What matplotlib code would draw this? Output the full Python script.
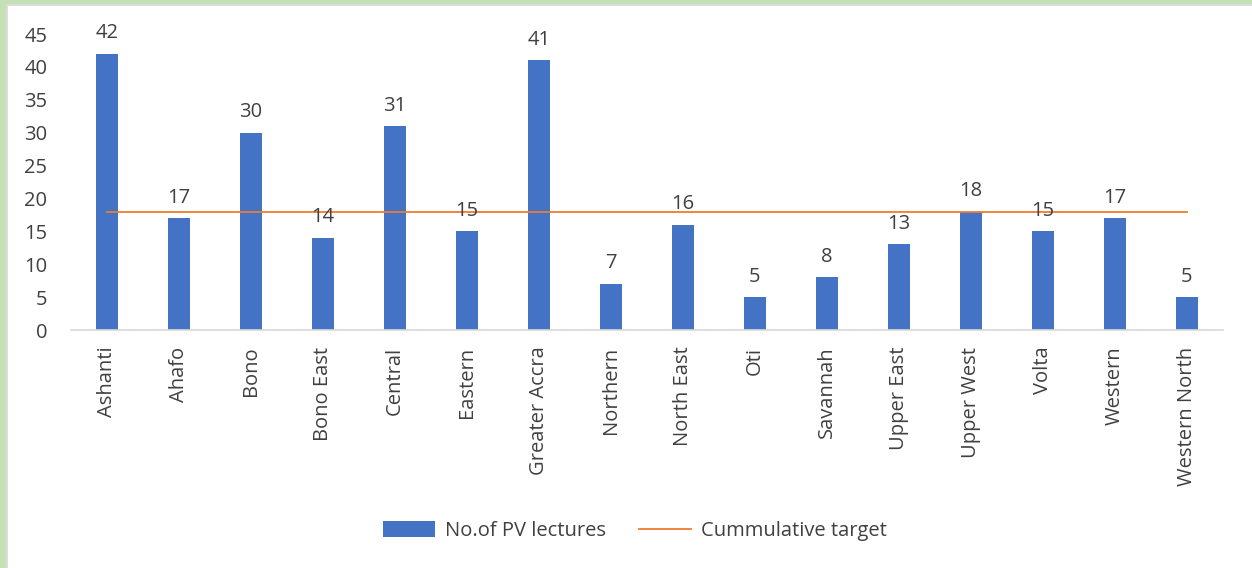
import matplotlib.pyplot as plt
from matplotlib.patches import Rectangle

regions = ["Ashanti", "Ahafo", "Bono", "Bono East", "Central", "Eastern",
           "Greater Accra", "Northern", "North East", "Oti", "Savannah",
           "Upper East", "Upper West", "Volta", "Western", "Western North"]
lectures = [42, 17, 30, 14, 31, 15, 41, 7, 16, 5, 8, 13, 18, 15, 17, 5]
target = [18] * len(regions)

plt.rcParams["font.family"] = ["Open Sans", "DejaVu Sans"]
TXT = "#404040"
FS = 14.5

fig = plt.figure(figsize=(12.52, 5.68), dpi=100)
fig.patch.set_facecolor("#c5e0b4")
# thin grey edge then white page, only top and left show green
fig.patches.append(Rectangle((6 / 1252, 0), 1, 1 - 4 / 568,
                             transform=fig.transFigure, facecolor="#dcdcdc",
                             edgecolor="none", zorder=-11))
fig.patches.append(Rectangle((8 / 1252, 0), 1, 1 - 6 / 568,
                             transform=fig.transFigure, facecolor="white",
                             edgecolor="none", zorder=-10))

ax = fig.add_axes([71 / 1252, 1 - 330 / 568, (1223 - 71) / 1252, (330 - 34) / 568])
ax.set_facecolor("none")

x = range(len(regions))
bars = ax.bar(x, lectures, width=0.31, color="#4472c4", label="No.of PV lectures", zorder=2)
line, = ax.plot(x, target, color="#ed7d31", lw=1.3, label="Cummulative target", zorder=3)

for xi, v in zip(x, lectures):
    ax.text(xi, v + 1.6, str(v), ha="center", va="bottom", fontsize=FS, color=TXT)

ax.set_xlim(-0.5, len(regions) - 0.5)
ax.set_ylim(0, 45)
ax.set_yticks(range(0, 46, 5))
ax.set_xticks(list(x))
ax.set_xticklabels(regions, rotation=90, fontsize=FS, color=TXT)
ax.tick_params(axis="y", labelsize=FS, colors=TXT, length=0, pad=17)
ax.tick_params(axis="x", length=0, pad=12)
for s in ["top", "right", "left"]:
    ax.spines[s].set_visible(False)
ax.spines["bottom"].set_color("#d9d9d9")
ax.spines["bottom"].set_linewidth(1.2)

leg = ax.legend(handles=[bars, line], loc="center",
                bbox_to_anchor=(635 / 1252, 1 - 531 / 568),
                bbox_transform=fig.transFigure, ncol=2, frameon=False,
                fontsize=FS, handlelength=2.6, handleheight=0.8,
                columnspacing=1.6, handletextpad=0.5)
for t in leg.get_texts():
    t.set_color(TXT)

fig.savefig("out.png", dpi=100)
